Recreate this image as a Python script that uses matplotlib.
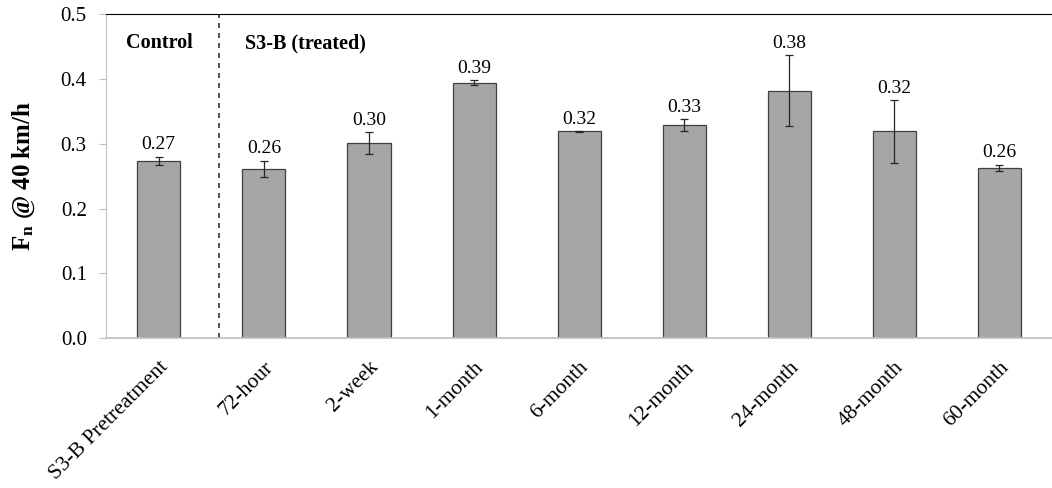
import numpy as np
import matplotlib.pyplot as plt

plt.rcParams['font.family'] = ['Liberation Serif', 'DejaVu Serif']
plt.rcParams['mathtext.fontset'] = 'custom'
plt.rcParams['mathtext.rm'] = 'Liberation Serif'
plt.rcParams['mathtext.bf'] = 'Liberation Serif:bold'
plt.rcParams['mathtext.it'] = 'Liberation Serif:italic'

categories = ['S3-B Pretreatment', '72-hour', '2-week', '1-month', '6-month',
              '12-month', '24-month', '48-month', '60-month']
fn_values = [0.274, 0.261, 0.301, 0.394, 0.319, 0.329, 0.382, 0.319, 0.263]
fn_errors = [0.006, 0.013, 0.017, 0.004, 0.001, 0.009, 0.055, 0.048, 0.005]
value_labels = ['0.27', '0.26', '0.30', '0.39', '0.32', '0.33', '0.38', '0.32', '0.26']

fig, ax = plt.subplots(figsize=(10.52, 4.88), dpi=100)
fig.subplots_adjust(left=0.101, right=1.0, top=0.971, bottom=0.307)

x = np.arange(len(categories))
ax.bar(x, fn_values, width=0.41, color='#a6a6a6', edgecolor='#404040', linewidth=0.9,
       yerr=fn_errors, error_kw=dict(ecolor='#262626', elinewidth=0.9, capsize=3, capthick=0.9))

for xi, v, e, lab in zip(x, fn_values, fn_errors, value_labels):
    ax.text(xi, v + e + 0.005, lab, ha='center', va='bottom', fontsize=14)

ax.set_xlim(-0.5, len(categories) - 0.5)
ax.set_ylim(0, 0.5)
ax.set_yticks(np.arange(0, 0.51, 0.1))
ax.set_yticklabels(['%.1f' % t for t in np.arange(0, 0.51, 0.1)], fontsize=15)
ax.set_xticks(x)
ax.set_xticklabels(categories, rotation=45, ha='right', rotation_mode='anchor', fontsize=15.5)
ax.tick_params(axis='x', length=0, pad=14)
ax.tick_params(axis='y', length=5, color='#bfbfbf', pad=9)

ax.spines['right'].set_visible(False)
ax.spines['left'].set_color('#bfbfbf')
ax.spines['bottom'].set_color('#bfbfbf')
ax.spines['bottom'].set_linewidth(1.2)
ax.spines['top'].set_color('#000000')

ax.axvline(0.57, color='#333333', linestyle=(0, (3, 3)), linewidth=1.2)
ax.text(-0.31, 0.455, 'Control', fontsize=14.5, fontweight='bold', ha='left', va='center')
ax.text(0.82, 0.455, 'S3-B (treated)', fontsize=14.5, fontweight='bold', ha='left', va='center')

ax.set_ylabel(r'$\mathbf{F_n}$ @ 40 km/h', fontsize=18, fontweight='bold', labelpad=17)

fig.savefig('out.png', dpi=100)
